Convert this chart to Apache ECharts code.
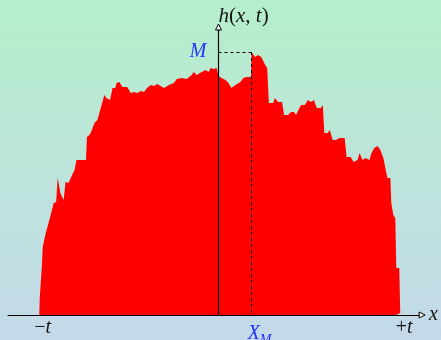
<!DOCTYPE html>
<html>
<head>
<meta charset="utf-8">
<script src="https://cdn.jsdelivr.net/npm/echarts@6/dist/echarts.min.js"></script>
<style>
  html, body { margin: 0; padding: 0; }
  #chart { width: 441px; height: 340px; }
</style>
</head>
<body>
<div id="chart"></div>
<script>
const xs = [-180.5, -180, -178.5, -178, -177, -175, -174, -172, -169.5, -167.5,
  -166, -163.5, -162, -160.5, -159.3, -157.3, -156, -154, -151, -147.5,
  -145, -143, -140, -133.5, -132.5, -130, -128.3, -125, -122, -120,
  -118.3, -115, -113, -109.3, -106.7, -104, -102.7, -100, -98.3, -96.7,
  -92, -88.3, -85, -81.7, -78.3, -75, -72, -68.3, -65, -61.7,
  -60, -55, -50, -45, -42, -37, -32, -27, -25, -22,
  -17, -13, -10, -8, -5, -2, 0, 3, 7, 10,
  13, 17, 22, 25, 28, 32.7, 33.3, 36.7, 40, 43,
  47, 49, 50.7, 55, 56.7, 60, 64, 66, 70, 73,
  76, 78, 80, 83, 87, 90, 93, 96, 99, 103,
  105, 106.5, 107, 110, 112, 115, 118, 122, 123, 127,
  129, 133, 136, 140, 142, 145, 148, 152, 154, 157,
  160, 163, 166, 170, 173, 174, 176, 178, 179, 182,
  183, 183.3];
const hs = [0, 18, 19, 47, 68, 70, 82, 83, 98, 100,
  112, 113, 137, 129, 122, 120, 115, 133, 132, 140,
  145, 155, 155, 155, 178, 180, 183, 192, 195, 193,
  208, 220, 217, 215, 227, 227, 232, 233, 233, 228,
  228, 222, 223, 222, 224, 223, 227, 230, 229, 231,
  232, 227, 230, 232, 236, 237, 236, 240, 243, 240,
  243, 245, 243, 247, 246, 247, 239, 237, 235, 232,
  227, 230, 233, 237, 238, 238, 263, 258, 260, 258,
  250, 247, 212, 212, 217, 213, 213, 200, 200, 203,
  203, 200, 202, 210, 210, 215, 213, 215, 207, 207,
  210, 182, 180, 182, 185, 175, 175, 177, 178, 177,
  158, 158, 153, 155, 162, 155, 157, 155, 162, 167,
  169, 165, 157, 137, 137, 112, 100, 97, 47, 47,
  2, 0];

const maxH = 263;      // M
const xAtMax = 33.3;   // X_M
const tLeft = -177;    // -t label
const tRight = 187;    // +t label
const xMin = -212, xMax = 202, yMax = 285;

const serif = "'Liberation Serif', 'DejaVu Serif', serif";
const blue = '#2233ff';
const ink = '#141414';

const chart = echarts.init(document.getElementById('chart'));

chart.setOption({
  animation: false,
  backgroundColor: {
    type: 'linear', x: 0, y: 0, x2: 0, y2: 1,
    colorStops: [
      { offset: 0, color: '#b5efcb' },
      { offset: 1, color: '#c4d9e9' },
    ],
  },
  grid: { left: 8, right: 19, top: 30, bottom: 25 },
  xAxis: {
    type: 'value',
    min: xMin,
    max: xMax,
    z: 5,
    axisLine: { lineStyle: { color: '#000', width: 1.2 } },
    axisTick: { show: false },
    splitLine: { show: false },
    axisLabel: {
      customValues: [tLeft, tRight],
      margin: 3,
      formatter: (v) => (v < 0 ? '{r|\u2212}{i|t}' : '{r|+}{i|t}'),
      rich: {
        r: { fontFamily: serif, fontSize: 20, color: ink },
        i: { fontFamily: serif, fontSize: 20, fontStyle: 'italic', color: ink },
      },
    },
    name: 'x',
    nameLocation: 'end',
    nameGap: 10,
    nameTextStyle: {
      fontFamily: serif, fontSize: 20, fontStyle: 'italic', color: ink,
      align: 'left', verticalAlign: 'middle', padding: [0, 0, 3, 0],
    },
  },
  yAxis: {
    type: 'value',
    min: 0,
    max: yMax,
    z: 5,
    axisLine: { onZero: true, lineStyle: { color: '#000', width: 1.2 } },
    axisTick: { show: false },
    splitLine: { show: false },
    axisLabel: { show: false },
    name: '{i|h}{r|(}{i|x}{r|, }{i|t}{r|)}',
    nameLocation: 'end',
    nameGap: 3,
    nameTextStyle: {
      align: 'left',
      rich: {
        r: { fontFamily: serif, fontSize: 21, color: ink },
        i: { fontFamily: serif, fontSize: 21, fontStyle: 'italic', color: ink },
      },
    },
  },
  series: [
    {
      type: 'line',
      data: xs.map((x, i) => [x, hs[i]]),
      symbol: 'none',
      lineStyle: { width: 0 },
      areaStyle: { color: '#ff0000', opacity: 1 },
      z: 2,
      markLine: {
        silent: true,
        symbol: ['none', 'none'],
        lineStyle: { color: '#000', type: [3, 3], width: 1 },
        data: [
          [
            {
              coord: [0, maxH],
              label: {
                show: true, position: 'start', distance: 12, formatter: 'M',
                fontFamily: serif, fontSize: 20, fontStyle: 'italic', color: blue,
                padding: [0, 0, 5, 0],
              },
            },
            { coord: [xAtMax, maxH] },
          ],
          [
            {
              coord: [xAtMax, maxH],
              label: {
                show: true, position: 'end', distance: 9,
                formatter: '{a|X}{b|M}',
                padding: [0, 0, 0, 16],
                rich: {
                  a: { fontFamily: serif, fontSize: 20, fontStyle: 'italic', color: blue,
                       verticalAlign: 'top', lineHeight: 20 },
                  b: { fontFamily: serif, fontSize: 14, fontStyle: 'italic', color: blue,
                       verticalAlign: 'top', lineHeight: 14, padding: [9, 0, 0, 0] },
                },
              },
            },
            { coord: [xAtMax, 0] },
          ],
        ],
      },
      markPoint: {
        silent: true,
        label: { show: false },
        itemStyle: { color: '#fff', borderColor: '#000', borderWidth: 1 },
        data: [
          { coord: [0, yMax], symbol: 'triangle', symbolSize: [6, 6], symbolOffset: [0, -3] },
          { coord: [xMax, 0], symbol: 'triangle', symbolSize: [6, 6], symbolRotate: -90, symbolOffset: [3, 0] },
        ],
      },
    },
  ],
});
</script>
</body>
</html>
